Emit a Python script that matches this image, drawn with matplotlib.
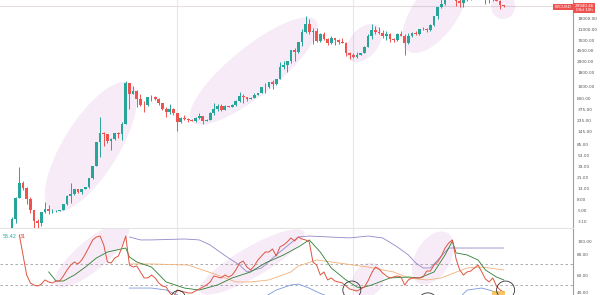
import matplotlib
matplotlib.use("Agg")
import matplotlib.pyplot as plt
from matplotlib.patches import Ellipse, Circle
from matplotlib.transforms import IdentityTransform
from matplotlib.ticker import NullLocator

# BTCUSD monthly candles, Apr 2011 .. Jun 2022 (index 0 = Apr 2011)
opens = [0.78, 3.5, 8.7, 16.1, 13.4, 8.2, 5.1, 3.25, 2.97, 4.72,
         5.5, 4.86, 4.9, 4.95, 5.17, 6.69, 9.35, 10.17, 12.4, 11.2,
         12.57, 13.51, 20.4, 33.4, 93, 139, 129, 97, 106, 135,
         133, 198, 1130, 732, 830, 573, 458, 446, 628, 640,
         586, 480, 387, 338, 378, 320, 217, 254, 244, 236,
         230, 263, 284, 230, 236, 314, 377, 430, 368, 437,
         416, 448, 531, 673, 624, 575, 609, 700, 743, 963,
         965, 1190, 1080, 1350, 2300, 2480, 2875, 4740, 4340, 6450,
         9950, 13850, 10250, 10330, 6930, 9240, 7490, 6390, 7730, 7030,
         6630, 6370, 4040, 3740, 3450, 3830, 4110, 5330, 8570, 10820,
         10090, 9610, 8310, 9180, 7560, 7190, 9350, 8530, 6410, 8630,
         9450, 9140, 11350, 11650, 10780, 13800, 19700, 28990, 33110, 45140,
         58800, 57750, 37300, 35040, 41460, 47100, 43820, 61300, 57000, 46200,
         38480, 43190, 45510, 37650, 31800]
highs = [3.9, 8.9, 31.9, 17.5, 13.9, 8.9, 5.2, 3.5, 4.8, 7.38,
         6.3, 5.4, 5.2, 5.2, 6.7, 9.6, 16.0, 12.5, 12.8, 12.6,
         13.9, 20.4, 33.4, 95, 266, 140, 129, 111, 135, 145,
         220, 1242, 1163, 1000, 860, 710, 540, 630, 680, 650,
         600, 490, 415, 460, 390, 320, 265, 300, 260, 248,
         268, 315, 285, 245, 335, 500, 465, 460, 445, 440,
         470, 550, 780, 705, 625, 630, 740, 755, 975, 1150,
         1210, 1290, 1350, 2790, 2980, 2920, 4750, 4980, 6450, 11400,
         19700, 17200, 11800, 11700, 9750, 9950, 7750, 8500, 7750, 7400,
         7680, 6560, 4350, 4110, 4200, 4140, 5640, 9090, 13880, 13200,
         12330, 10950, 10540, 9510, 7750, 9580, 10500, 9200, 9470, 10070,
         10400, 11450, 12470, 12070, 14100, 19860, 29300, 41950, 58350, 61780,
         64850, 59600, 41330, 42400, 50500, 52920, 67000, 69000, 59100, 47990,
         45820, 48190, 47440, 39980, 31900]
lows = [0.56, 3.0, 8.6, 12.3, 6.7, 4.5, 2.2, 2.0, 2.6, 4.5,
        4.3, 4.6, 4.8, 4.9, 5.2, 6.5, 7.1, 9.9, 10.5, 10.0,
        12.5, 13.2, 19.0, 33.4, 50, 79, 88, 65, 101, 109,
        102, 198, 383, 732, 420, 440, 340, 432, 530, 565,
        450, 370, 275, 310, 300, 152, 212, 240, 214, 226,
        221, 253, 200, 225, 235, 300, 350, 355, 365, 405,
        414, 440, 520, 480, 535, 570, 605, 685, 740, 760,
        920, 890, 1060, 1340, 2080, 1840, 2700, 2970, 4100, 5500,
        9450, 9400, 6000, 6600, 6430, 7040, 5750, 6070, 5880, 6100,
        6200, 3560, 3120, 3350, 3390, 3730, 4070, 5330, 7450, 9050,
        9400, 7710, 7300, 6530, 6430, 6860, 8460, 3850, 6150, 8110,
        8910, 8970, 10990, 9880, 10360, 13200, 17600, 28130, 32300, 44950,
        47040, 30000, 28800, 29280, 37330, 39600, 43290, 53250, 42000, 32950,
        34320, 37160, 37700, 26700, 29300]
closes = opens[1:] + [29940.46]

price_ticks = [3.10, 5.00, 8.00, 13.00, 21.00, 33.00, 53.00, 85.00, 145.00, 235.00,
               375.00, 600.00, 1000.00, 1800.00, 2900.00, 4500.00, 7000.00, 11000.00, 18000.00]
year_lines = [45, 93]  # Jan 2015, Jan 2019

# lower pane: RSI (from Jun 2011), its MA and bands
rsi = [97.6, 78.6, 59.5, 51.9, 50.0, 49.0, 50.9, 54.8, 52.9, 51.9,
       53.8, 53.8, 58.6, 64.3, 69.0, 71.9, 70.0, 73.8, 79.5, 86.2,
       92.9, 95.7, 96.6, 88.1, 71.9, 70.9, 75.7, 77.6, 86.2, 96.6,
       69.0, 67.1, 68.1, 62.4, 56.7, 56.7, 59.5, 56.7, 51.9, 49.0,
       48.1, 42.4, 38.6, 45.2, 44.3, 43.3, 42.4, 42.4, 44.3, 46.2,
       48.1, 50.0, 52.9, 58.6, 57.6, 56.7, 59.5, 57.6, 59.5, 64.3,
       70.9, 72.8, 67.1, 64.3, 68.1, 73.8, 77.6, 81.4, 81.4, 84.3,
       77.6, 86.2, 88.1, 91.0, 94.8, 91.9, 95.7, 93.8, 92.9, 91.0,
       71.9, 69.0, 59.5, 62.4, 54.8, 56.7, 53.8, 52.9, 51.9, 49.0,
       46.2, 45.2, 44.3, 46.2, 48.1, 53.8, 61.4, 67.1, 65.2, 61.4,
       58.6, 56.7, 57.6, 58.6, 57.6, 50.0, 54.8, 56.7, 56.7, 56.7,
       57.6, 63.3, 63.3, 69.0, 71.9, 77.6, 85.2, 90.0, 92.9, 74.8,
       64.3, 59.5, 62.4, 63.3, 66.2, 69.0, 62.4, 55.7, 52.9, 56.7,
       49.0, 45.2, 43.3]
rsi_start = 2

ma_idx = [10, 12, 14, 17, 20, 23, 26, 31, 32, 34, 38, 42, 47, 51, 56, 60, 65, 69, 74, 78,
          81, 84, 87, 91, 94, 95, 98, 103, 108, 111, 115, 118, 120, 121, 124, 127, 129, 132, 134]
ma_val = [62.4, 53.8, 53.8, 59.5, 67.1, 75.7, 81.4, 85.2, 76.7, 71.9, 67.1, 52.9, 47.1, 45.2,
          50.0, 56.7, 62.4, 70.9, 78.6, 86.2, 92.9, 81.4, 66.2, 54.8, 48.1, 47.1, 50.0, 56.7,
          57.6, 56.7, 62.4, 78.6, 91.9, 80.5, 78.6, 73.8, 64.3, 57.6, 54.8]

upper_idx = [32, 35, 38, 47, 51, 54, 57, 59, 62, 64, 68, 72, 76, 78, 81, 92, 97, 101, 105,
             108, 110, 112, 114, 116, 119, 121, 134]
upper_val = [95.7, 92.9, 92.9, 93.8, 92.9, 88.1, 80.5, 75.7, 69.0, 62.4, 66.2, 78.6, 90.0,
             95.7, 96.6, 94.8, 96.6, 94.8, 86.2, 78.6, 71.0, 66.2, 66.2, 73.8, 85.2, 85.2, 85.2]

basis_idx = [32, 38, 48, 56, 61, 65, 70, 76, 78, 83, 87, 97, 104, 108, 113, 117, 119, 124, 128, 134]
basis_val = [70.0, 70.0, 69.0, 59.5, 52.9, 52.9, 54.8, 62.4, 68.1, 73.8, 71.9, 67.1, 62.4,
             56.7, 54.8, 56.7, 59.5, 66.2, 67.1, 64.3]

lower_idx = [32, 38, 42, 46, 69, 72, 76, 78, 81, 84, 87, 122, 124, 128, 130, 133]
lower_val = [47.1, 47.1, 45.2, 39.0, 39.0, 45.2, 50.0, 50.9, 47.0, 42.0, 38.0, 38.0, 45.2,
             47.1, 45.2, 42.0]

up_col = "#26a69a"
dn_col = "#ef5350"

fig = plt.figure(figsize=(6, 2.95), dpi=100)
ax = fig.add_axes([0, 67 / 295, 573 / 600, 228 / 295])
ax2 = fig.add_axes([0, 0, 573 / 600, 66 / 295])

idx = list(range(len(opens)))
cols = [up_col if c >= o else dn_col for o, c in zip(opens, closes)]
ax.vlines(idx, lows, highs, colors=cols, lw=0.7, zorder=3)
ax.bar(idx, [max(abs(c - o), o * 0.01) for o, c in zip(opens, closes)],
       bottom=[min(o, c) for o, c in zip(opens, closes)],
       width=0.75, color=cols, zorder=4)

ax.set_yscale("log")
ax.set_ylim(2.40, 39200)
ax.set_xlim(-3.27, 152.86)
ax.yaxis.tick_right()
ax.set_yticks(price_ticks)
ax.set_yticklabels(["%.2f" % t for t in price_ticks])
ax.yaxis.set_minor_locator(NullLocator())
ax.tick_params(axis="y", length=0, labelsize=3.1, labelcolor="#555555", pad=3)
ax.set_xticks([])
for s in ["top", "left"]:
    ax.spines[s].set_visible(False)
ax.spines["right"].set_color("#9e9e9e")
ax.spines["right"].set_linewidth(0.8)
ax.spines["bottom"].set_color("#e3e3e3")
ax.spines["bottom"].set_linewidth(0.8)
for yl in year_lines:
    ax.axvline(yl, color="#e8e8e8", lw=0.8, zorder=0)
ax.axhline(closes[-1], color="#e6dede", lw=0.8, zorder=1)

fig.canvas.draw()


def px(a, x, y):
    return a.transData.transform((x, y))


def blob(a, x, y, w, h, ang):
    e = Ellipse(px(a, x, y), w, h, angle=ang, transform=IdentityTransform(),
                facecolor="#9c27b0", alpha=0.09, edgecolor="none", zorder=1)
    a.add_patch(e)


# highlighted rallies on the price pane
blob(ax, 21.5, 75, 150, 55, 58)
blob(ax, 65.9, 1911, 160, 48, 39)
blob(ax, 95.9, 6300, 44, 28, 50)
blob(ax, 115.3, 23500, 95, 45, 55)
blob(ax, 133.8, 30300, 24, 26, 0)

# lower pane
ax2.plot(range(rsi_start, rsi_start + len(rsi)), rsi, color="#e0533f", lw=0.7, zorder=5)
ax2.plot(ma_idx, ma_val, color="#2e7d32", lw=0.6, zorder=4)
ax2.plot(upper_idx, upper_val, color="#9486c8", lw=0.6, zorder=3)
ax2.plot(basis_idx, basis_val, color="#f2b078", lw=0.6, zorder=3)
ax2.plot(lower_idx, lower_val, color="#7b98dc", lw=0.6, zorder=3)
ax2.axhline(70, color="#9e9e9e", lw=0.6, ls=(0, (3, 3)), zorder=2)
ax2.axhline(50, color="#9e9e9e", lw=0.6, ls=(0, (3, 3)), zorder=2)
for yl in year_lines:
    ax2.axvline(yl, color="#e8e8e8", lw=0.8, zorder=0)
ax2.set_xlim(-3.27, 152.86)
ax2.set_ylim(40.48, 103.3)
ax2.yaxis.tick_right()
ax2.set_yticks([91.0, 79.5, 59.5, 43.0])
ax2.set_yticklabels(["100.00", "80.00", "60.00", "40.00"])
ax2.tick_params(axis="y", length=0, labelsize=3.1, labelcolor="#555555", pad=3)
ax2.set_xticks([])
for s in ["top", "left", "bottom"]:
    ax2.spines[s].set_visible(False)
ax2.spines["right"].set_color("#9e9e9e")
ax2.spines["right"].set_linewidth(0.8)

blob(ax2, 21.8, 78.6, 95, 30, 40)
blob(ax2, 65.4, 71.9, 120, 30, 30)
blob(ax2, 97.0, 54.8, 36, 30, 60)
blob(ax2, 114.7, 75.7, 58, 35, 60)

for cx, cy, r in [(45.3, 38.0, 7), (92.6, 45.2, 9), (113.3, 33.0, 10), (134.5, 45.2, 9)]:
    ax2.add_patch(Circle(px(ax2, cx, cy), r, transform=IdentityTransform(),
                         facecolor="none", edgecolor="#333333", lw=0.6, zorder=6))
x0, y0 = px(ax2, 130.8, 42.4)
ax2.add_patch(plt.Rectangle((x0, y0 - 4), 13, 6, transform=IdentityTransform(),
                            facecolor="#f5b942", alpha=0.8, edgecolor="none", zorder=5))

ax2.text(0.005, 0.93, "55.42", color="#26a69a", fontsize=3.5, transform=ax2.transAxes,
         va="top")
ax2.text(0.035, 0.93, "31", color="#d9442f", fontsize=3.5, transform=ax2.transAxes,
         va="top")

fig.text(563 / 600, 1 - 7 / 295, "BTCUSD", color="white", fontsize=3.0, ha="center",
         va="center", bbox=dict(boxstyle="square,pad=0.3", fc="#ef5350", ec="none"))
fig.text(584 / 600, 1 - 8 / 295, "29940.46\n09d 10h", color="white", fontsize=3.0,
         ha="center", va="center", linespacing=1.0,
         bbox=dict(boxstyle="square,pad=0.3", fc="#ef5350", ec="none"))

fig.savefig("out.png", dpi=100, facecolor="white")
